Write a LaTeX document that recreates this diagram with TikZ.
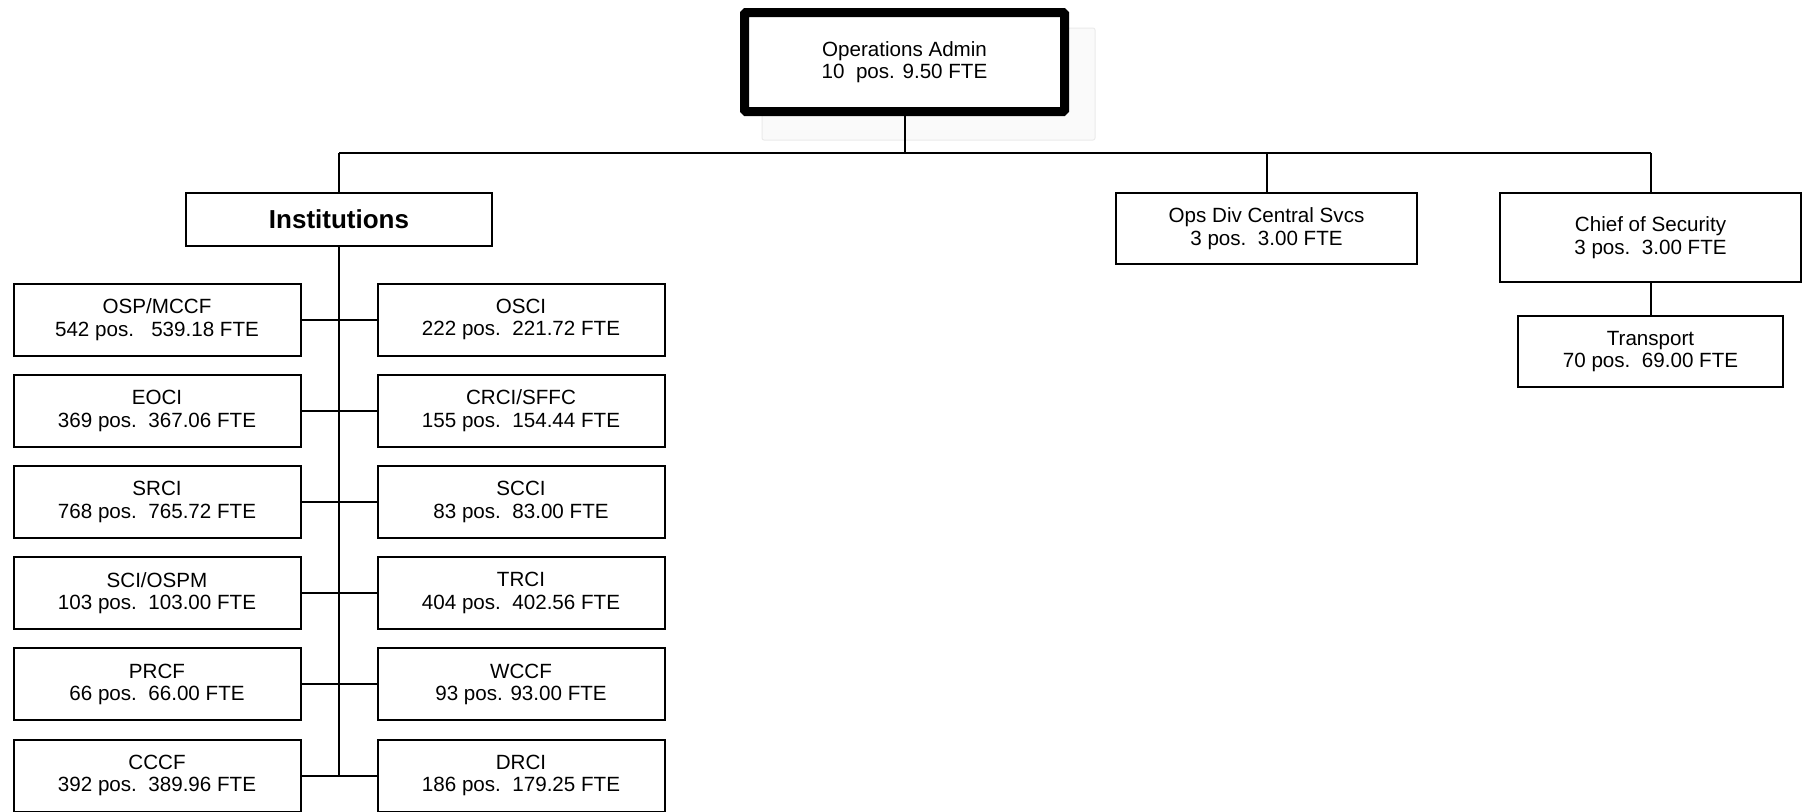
\documentclass[tikz,border=0pt]{standalone}
\usepackage{fontspec}
\setmainfont{Liberation Sans}
\begin{document}
\begin{tikzpicture}[x=1pt,y=-1pt,
  unit/.style={draw=black,line width=2pt,fill=white,inner sep=0pt,outer sep=0pt,
    align=center,font=\fontsize{20.6}{22.5}\selectfont,minimum width=287pt,minimum height=72pt},
  topbox/.style={unit,line width=9pt,rounded corners=1.5pt,minimum width=320pt,minimum height=99pt},
  instbox/.style={unit,font=\fontsize{26}{28}\bfseries,minimum width=306pt,minimum height=53pt},
  link/.style={draw=black,line width=2pt}]
\useasboundingbox (0,0) rectangle (1803,811);
\clip (0,0) rectangle (1803,811);
\fill[white] (0,0) rectangle (1803,811);
% faint ghost rectangle behind the top box
\draw[draw=black!8,fill=black!2,line width=1pt,rounded corners=2pt] (762,28) rectangle (1095,140);
\node[topbox] (top) at (904.5,62) {Operations Admin\\10\ \ pos. 9.50 FTE};
\node[instbox] (inst) at (339,219.5) {Institutions};
\node[unit,minimum width=301pt,minimum height=71pt] (ops) at (1266.5,228.5) {Ops Div Central Svcs\\3 pos.\ \ 3.00 FTE};
\node[unit,minimum width=301pt,minimum height=89pt] (chief) at (1650.5,237.5) {Chief of Security\\3 pos.\ \ 3.00 FTE};
\node[unit,minimum width=265pt,minimum height=71pt] (trans) at (1650.5,351.5) {Transport\\70 pos.\ \ 69.00 FTE};
% left column
\node[unit] (L1) at (157,319.5) {OSP/MCCF\\542 pos.\ \ \ 539.18 FTE};
\node[unit] (L2) at (157,410.7) {EOCI\\369 pos.\ \ 367.06 FTE};
\node[unit] (L3) at (157,501.9) {SRCI\\768 pos.\ \ 765.72 FTE};
\node[unit] (L4) at (157,593.1) {SCI/OSPM\\103 pos.\ \ 103.00 FTE};
\node[unit] (L5) at (157,684.3) {PRCF\\66 pos.\ \ 66.00 FTE};
\node[unit] (L6) at (157,775.5) {CCCF\\392 pos.\ \ 389.96 FTE};
% right column
\node[unit] (R1) at (521,319.5) {OSCI\\222 pos.\ \ 221.72 FTE};
\node[unit] (R2) at (521,410.7) {CRCI/SFFC\\155 pos.\ \ 154.44 FTE};
\node[unit] (R3) at (521,501.9) {SCCI\\83 pos.\ \ 83.00 FTE};
\node[unit] (R4) at (521,593.1) {TRCI\\404 pos.\ \ 402.56 FTE};
\node[unit] (R5) at (521,684.3) {WCCF\\93 pos. 93.00 FTE};
\node[unit] (R6) at (521,775.5) {DRCI\\186 pos.\ \ 179.25 FTE};
% bus
\coordinate (busL) at (339,153);
\coordinate (busR) at (1650.5,153);
\draw[link] (top.south) -- (top.south |- busL);
\draw[link] (busL) -- (busR);
\draw[link] (busL) -- (inst.north);
\draw[link] (ops.north) -- (ops.north |- busL);
\draw[link] (chief.north) -- (busR);
\draw[link] (chief.south) -- (trans.north);
\draw[link] (inst.south) -- (inst.south |- L6.east);
\foreach \i in {1,...,6} { \draw[link] (L\i.east) -- (R\i.west); }
\end{tikzpicture}
\end{document}
